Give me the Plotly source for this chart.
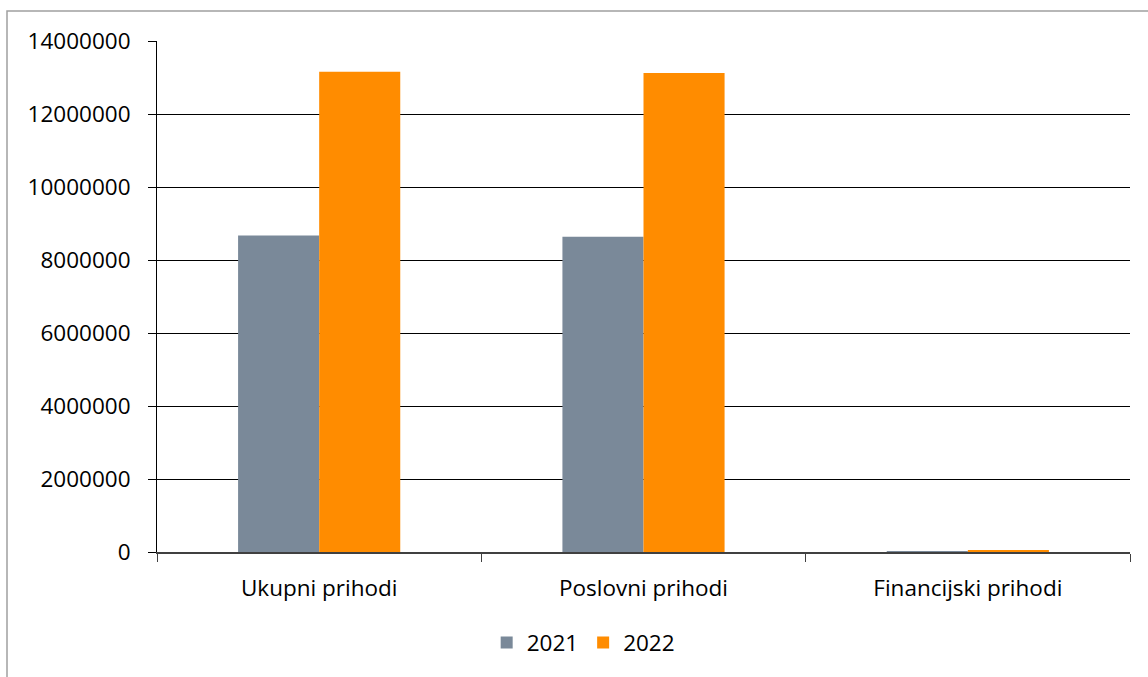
import plotly.graph_objects as go

categories = ["Ukupni prihodi", "Poslovni prihodi", "Financijski prihodi"]
values_2021 = [8670000, 8640000, 25000]
values_2022 = [13160000, 13120000, 35000]
series_names = ["2021", "2022"]
y_ticks = [0, 2000000, 4000000, 6000000, 8000000, 10000000, 12000000, 14000000]

W, H = 1148, 677
ml, mr, mt, mb = 157, 18, 41, 125
FONT = "Open Sans"
FS = 22.5

fig = go.Figure()
fig.add_trace(go.Bar(name=series_names[0], x=categories, y=values_2021,
                     marker=dict(color="#7A8999", line=dict(width=0))))
fig.add_trace(go.Bar(name=series_names[1], x=categories, y=values_2022,
                     marker=dict(color="#FF8C00", line=dict(width=0))))

fig.update_layout(
    width=W, height=H,
    margin=dict(l=ml, r=mr, t=mt, b=mb),
    paper_bgcolor="white", plot_bgcolor="white",
    barmode="group", bargap=0.5, bargroupgap=0,
    font=dict(family=FONT, size=FS, color="#000000"),
    showlegend=True,
    legend=dict(orientation="h", x=0.438, xanchor="center", y=-0.178, yanchor="middle",
                font=dict(family=FONT, size=FS, color="#000000"),
                itemwidth=30, traceorder="normal"),
    xaxis=dict(type="category", showline=True, linecolor="#404040", linewidth=1.5,
               ticks="outside", tickson="boundaries", ticklen=8, tickcolor="#404040",
               tickwidth=1, showgrid=False, ticklabelstandoff=15,
               tickfont=dict(family=FONT, size=FS)),
    yaxis=dict(range=[0, 14000000], tickvals=y_ticks, tickformat="d",
               showline=True, linecolor="#000000", linewidth=1,
               ticks="outside", ticklen=8, tickcolor="#000000",
               showgrid=True, gridcolor="#000000", gridwidth=1,
               zeroline=False, ticklabelstandoff=13,
               tickfont=dict(family=FONT, size=FS)),
)

# Chart-area border (partially visible as in the reference)
fig.add_shape(type="rect", xref="paper", yref="paper",
              x0=-(ml - 7) / (W - ml - mr), x1=1 + (mr + 20) / (W - ml - mr),
              y0=-(mb + 20) / (H - mt - mb), y1=1 + (mt - 11) / (H - mt - mb),
              line=dict(color="#A0A0A0", width=1.5), fillcolor="rgba(0,0,0,0)",
              layer="below")

fig.write_html("out.html", config={"displayModeBar": False},
               post_script="document.body.style.margin='0px';document.body.style.overflow='hidden';")
